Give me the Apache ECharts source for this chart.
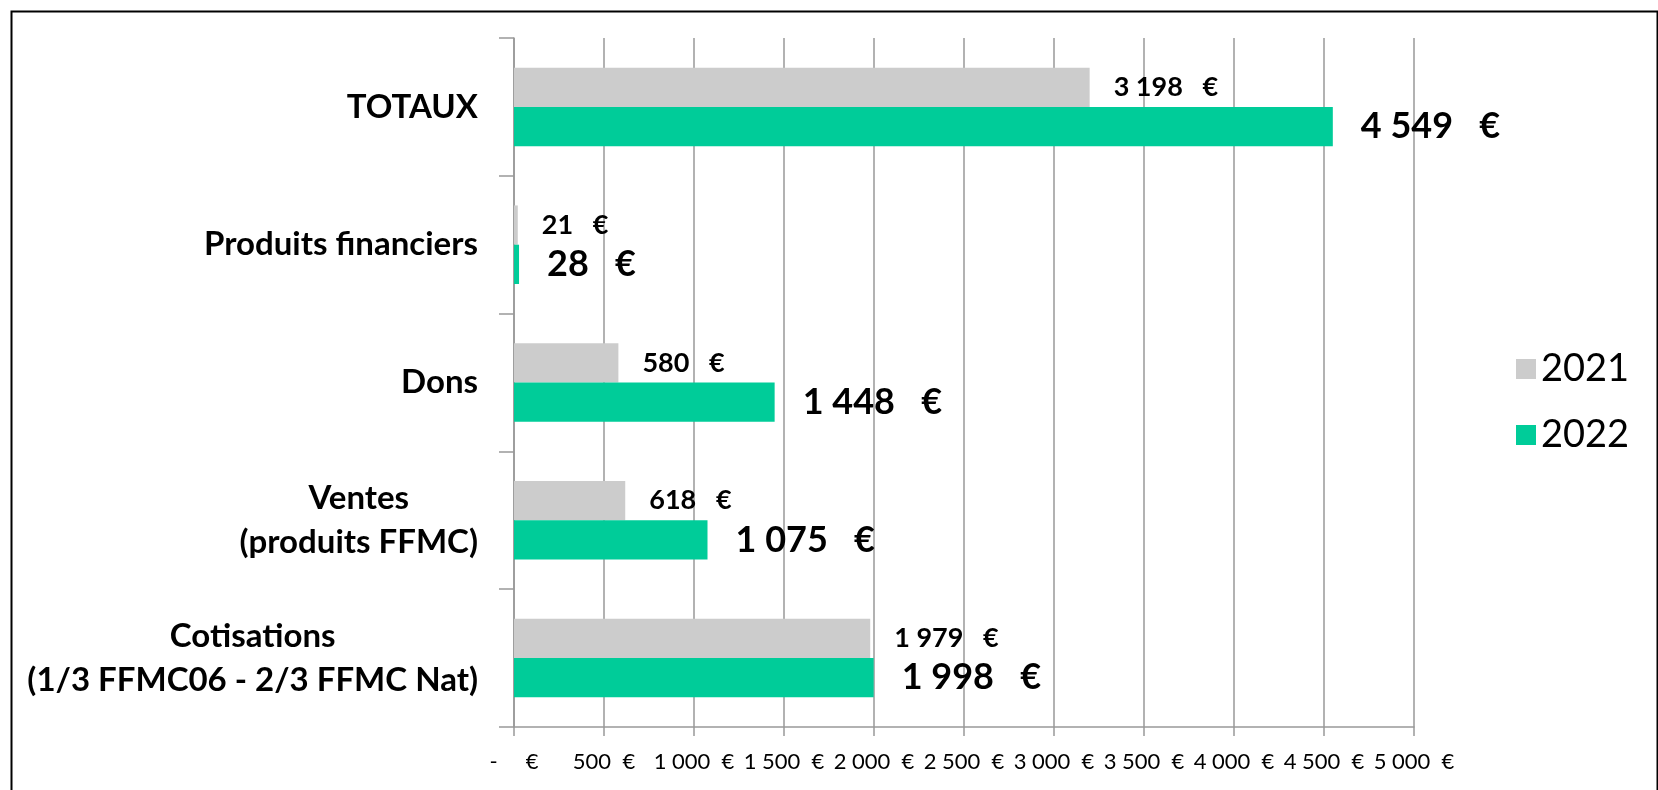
<!DOCTYPE html>
<html>
<head>
<meta charset="utf-8">
<script src="https://cdn.jsdelivr.net/npm/echarts@6/dist/echarts.min.js"></script>
<style>
  html, body { margin: 0; padding: 0; background: #fff; }
  #chart { width: 1658px; height: 790px; }
</style>
</head>
<body>
<div id="chart"></div>
<script>
// catégories (de bas en haut)
const categories = [
  'Cotisations\n(1/3 FFMC06 - 2/3 FFMC Nat)',
  'Ventes\n(produits FFMC)',
  'Dons',
  'Produits financiers',
  'TOTAUX'
]
const values2021 = [1979, 618, 580, 21, 3198]
const values2022 = [1998, 1075, 1448, 28, 4549]
const seriesNames = ['2021', '2022']

const FONT = 'Lato'

const euro = (v, gap) => {
  const s = String(v).replace(/\B(?=(\d{3})+(?!\d))/g, ' ')
  return s + gap + '€'
}

const chart = echarts.init(document.getElementById('chart'))

const option = {
  animation: false,
  grid: { left: 514, right: 244, top: 38, bottom: 63 },
  graphic: [
    {
      type: 'rect',
      left: 9,
      top: 9,
      silent: true,
      shape: { width: 1646, height: 800 },
      style: { fill: 'none', stroke: '#000', lineWidth: 2 }
    }
  ],
  legend: {
    orient: 'vertical',
    left: 1511,
    top: 345,
    data: seriesNames,
    icon: 'rect',
    itemWidth: 20,
    itemHeight: 20,
    itemGap: 28,
    textStyle: { fontFamily: FONT, fontSize: 38, color: '#000' }
  },
  xAxis: {
    type: 'value',
    min: 0,
    max: 5000,
    interval: 500,
    axisLine: { show: true, lineStyle: { color: '#999', width: 1.5 } },
    axisTick: { show: true, length: 9, lineStyle: { color: '#999', width: 1.5 } },
    splitLine: { show: true, lineStyle: { color: '#999', width: 1.5 } },
    axisLabel: {
      margin: 24,
      fontFamily: FONT,
      fontSize: 22,
      color: '#000',
      formatter: v => (v === 0 ? '-     €' : euro(v, '  '))
    }
  },
  yAxis: {
    type: 'category',
    data: categories,
    axisLine: { show: true, lineStyle: { color: '#999', width: 1.5 } },
    axisTick: { show: true, length: 15, lineStyle: { color: '#999', width: 1.5 } },
    axisLabel: {
      margin: 36,
      formatter: v => v.split('\n').map(l => '{c|' + l + '}').join('\n'),
      rich: {
        c: {
          align: 'center',
          fontFamily: FONT,
          fontWeight: 'bold',
          fontSize: 33,
          lineHeight: 44,
          color: '#000'
        }
      }
    }
  },
  series: [
    {
      name: '2021',
      type: 'bar',
      data: values2021,
      barGap: '0%',
      barCategoryGap: '43%',
      itemStyle: { color: '#cccccc' },
      label: {
        show: true,
        position: 'right',
        distance: 24,
        fontFamily: FONT,
        fontWeight: 'bold',
        fontSize: 27,
        color: '#000',
        formatter: p => euro(p.value, '   ')
      }
    },
    {
      name: '2022',
      type: 'bar',
      data: values2022,
      barGap: '0%',
      barCategoryGap: '43%',
      itemStyle: { color: '#00cc99' },
      label: {
        show: true,
        position: 'right',
        distance: 28,
        fontFamily: FONT,
        fontWeight: 'bold',
        fontSize: 36,
        color: '#000',
        formatter: p => euro(p.value, '   ')
      }
    }
  ]
}

chart.setOption(option)
</script>
</body>
</html>
